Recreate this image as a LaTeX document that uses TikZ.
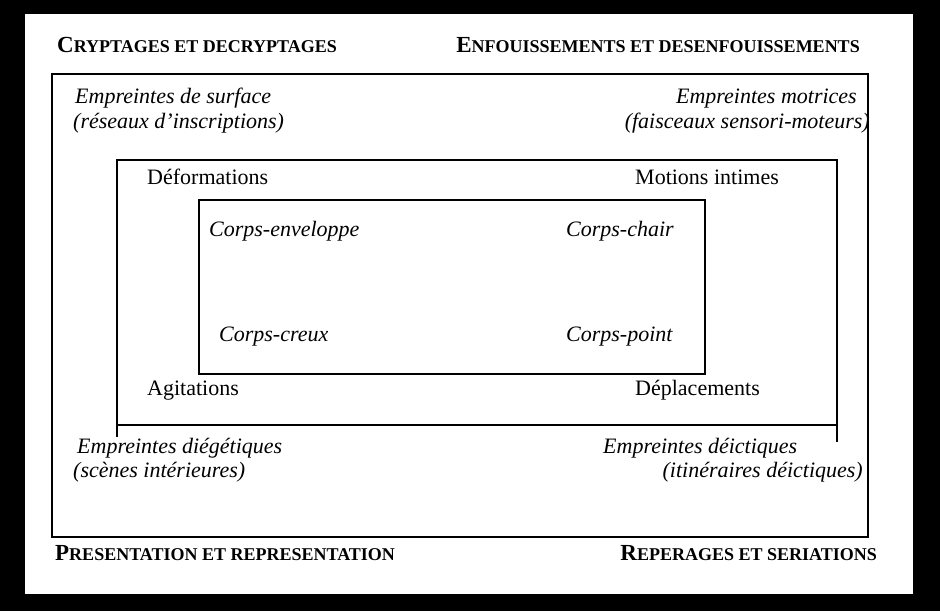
\documentclass[tikz,border=0pt]{standalone}
\usepackage{fontspec}
\setmainfont{Liberation Serif}
\newcommand\bigsc[2]{{\fontsize{23}{23}\selectfont #1}{\fontsize{18}{18}\selectfont #2}}

\begin{document}
\begin{tikzpicture}[x=1pt, y=-1pt,
  frame/.style={line width=2.2pt},
  lbl/.style={inner sep=0pt, font=\fontsize{22}{25}\selectfont},
  itl/.style={inner sep=0pt, font=\fontsize{22}{25}\selectfont\itshape},
  hdr/.style={inner sep=0pt, font=\bfseries}
]
% black border
\fill[black] (0,0) rectangle (940,611);
\fill[white] (25,14) rectangle (913,594);
\useasboundingbox (0,0) rectangle (940,611);

% nested frames
\draw[frame] (52,74) rectangle (868,537);
\draw[frame] (117,160) rectangle (837,425);
\draw[frame] (117,425) -- (117,437) (837,425) -- (837,442);
\draw[frame] (199,200) rectangle (705,374);

% corner headings
\node[hdr, anchor=base west] (cryp) at (57,52) {\bigsc{C}{RYPTAGES ET DECRYPTAGES}};
\node[hdr, anchor=base east] (enfou) at (860,52) {\bigsc{E}{NFOUISSEMENTS ET DESENFOUISSEMENTS}};
\node[hdr, anchor=base west] (pres) at (55,560) {\bigsc{P}{RESENTATION ET REPRESENTATION}};
\node[hdr, anchor=base east] (repe) at (877,560) {\bigsc{R}{EPERAGES ET SERIATIONS}};

% outer frame
\node[itl, anchor=base west] (empTL) at (75,103) {Empreintes de surface};
\node[itl, anchor=base west] (empTLsub) at (73,128) {(réseaux d’inscriptions)};
\node[itl, anchor=base east] (empTR) at (857,103) {Empreintes motrices};
\node[itl, anchor=base east] (empTRsub) at (870,128) {(faisceaux sensori-moteurs)};
\node[itl, anchor=base west] (empBL) at (77,453) {Empreintes diégétiques};
\node[itl, anchor=base west] (empBLsub) at (73,477) {(scènes intérieures)};
\node[itl, anchor=base west] (empBR) at (603,453) {Empreintes déictiques};
\node[itl, anchor=base east] (empBRsub) at (863,477) {(itinéraires déictiques)};

% middle frame
\node[lbl, anchor=base west] (defo) at (147,184) {Déformations};
\node[lbl, anchor=base west] (motion) at (635,184) {Motions intimes};
\node[lbl, anchor=base west] (agit) at (147,395) {Agitations};
\node[lbl, anchor=base west] (depl) at (635,395) {Déplacements};

% inner frame
\node[itl, anchor=base west] (cEnv) at (209,236) {Corps-enveloppe};
\node[itl, anchor=base west] (cChair) at (566,236) {Corps-chair};
\node[itl, anchor=base west] (cCreux) at (219,341) {Corps-creux};
\node[itl, anchor=base west] (cPoint) at (566,341) {Corps-point};
\end{tikzpicture}
\end{document}
